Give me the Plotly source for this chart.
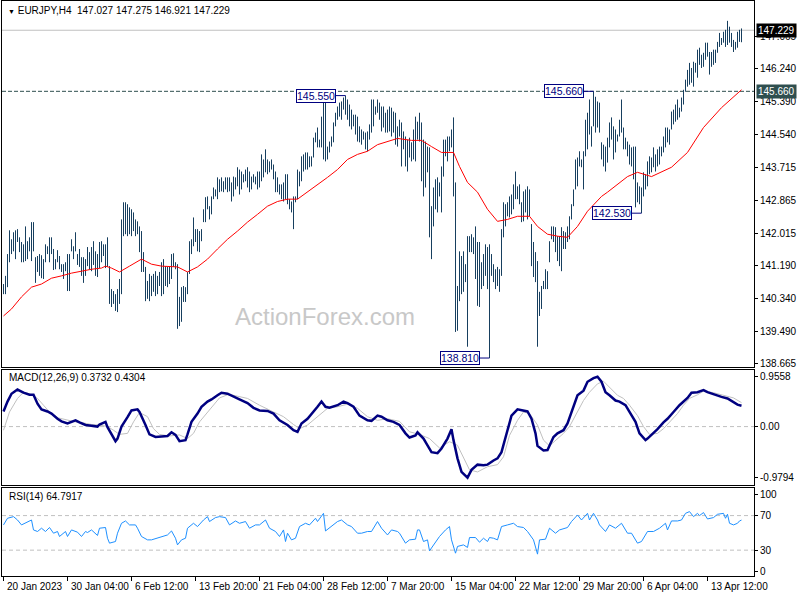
import plotly.graph_objects as go

# ---------------- data ----------------
bar_high = [
140.71,140.92,141.48,142.09,141.86,142.04,142.09,142.12,141.91,141.79,
141.73,142.19,141.81,141.91,142.30,142.30,141.40,141.43,141.48,141.45,
141.35,141.73,141.68,141.91,141.91,141.61,141.35,141.58,141.43,141.22,
141.22,141.27,141.48,141.48,141.86,141.68,142.04,141.48,141.61,141.40,
141.40,141.35,141.66,141.53,141.66,141.81,141.55,141.48,141.79,141.81,
141.73,141.73,141.91,141.17,140.58,140.53,140.45,140.58,140.84,142.37,
142.81,142.81,142.76,142.68,142.63,142.55,142.37,142.32,142.19,142.07,
141.53,141.15,140.79,140.97,140.92,140.97,141.04,140.92,141.02,141.27,
141.35,141.17,141.15,141.15,141.48,141.50,141.27,141.22,140.38,140.63,
140.66,140.63,141.02,141.81,141.86,142.42,142.12,142.12,142.07,142.12,
142.63,142.94,142.96,142.71,142.96,143.19,143.14,143.45,143.40,143.45,
143.35,143.45,143.45,143.45,143.32,143.47,143.45,143.71,143.65,143.60,
143.53,143.65,143.71,143.60,143.47,143.53,143.47,143.60,143.60,144.04,
143.91,144.17,143.91,143.86,143.91,143.78,143.60,143.45,143.27,143.27,
143.32,143.53,143.53,142.89,142.83,142.96,142.96,143.65,143.60,143.99,
144.04,144.09,144.09,143.99,143.99,144.47,144.60,144.73,144.42,145.01,
145.45,145.52,144.24,144.37,144.50,144.86,145.11,145.27,145.37,145.40,
145.50,145.55,145.45,145.32,145.19,145.06,145.06,145.01,144.76,144.68,
144.63,144.60,144.63,144.81,145.45,145.45,145.27,145.45,145.37,145.27,
145.27,145.11,145.19,145.27,145.24,145.14,145.11,144.76,144.93,144.86,
144.63,144.50,144.42,144.47,144.35,144.68,145.01,144.88,145.11,144.86,
144.42,144.37,144.24,144.22,142.71,143.19,143.40,143.45,143.32,143.73,
144.42,144.42,144.50,144.50,144.68,144.99,143.32,140.66,141.55,141.43,
141.55,141.22,141.94,141.94,141.99,141.91,142.19,141.79,141.79,141.27,
141.48,141.73,141.66,141.73,141.48,141.22,141.09,141.15,141.09,142.12,
142.81,142.76,142.81,142.96,143.01,143.27,143.60,143.22,143.27,142.81,
143.09,143.14,143.22,143.14,142.25,141.79,141.53,141.30,140.51,140.66,
140.79,141.09,141.04,141.81,142.19,142.19,142.17,141.94,141.94,142.17,
142.07,142.04,142.19,142.45,142.76,143.14,143.91,143.96,144.12,143.91,
144.12,144.93,145.11,145.45,144.76,145.66,145.52,145.40,145.37,144.35,
144.29,144.24,144.47,144.86,144.99,144.76,144.68,144.55,144.93,145.45,
144.73,144.47,144.37,144.29,144.22,144.24,144.24,143.32,143.22,143.19,
143.58,143.53,143.86,143.99,143.96,144.22,144.04,144.17,144.24,144.24,
144.50,144.73,144.73,144.68,145.14,145.19,145.32,145.45,145.24,145.50,
145.70,145.96,146.21,146.39,146.26,146.42,146.39,146.73,146.78,146.60,
146.65,146.91,146.91,146.67,146.67,146.73,146.73,146.93,147.16,147.03,
147.19,147.24,147.47,147.32,147.16,146.98,146.93,147.19,147.24,147.275,
]
bar_low = [
140.45,140.45,140.63,141.27,141.48,141.55,141.35,141.79,141.53,141.27,
141.27,141.30,141.35,141.55,141.30,141.55,140.74,141.02,140.92,140.86,
140.84,141.27,141.48,141.27,141.48,141.07,141.09,141.27,141.09,141.02,
140.84,141.04,140.53,140.53,141.55,141.35,141.55,141.20,141.15,140.92,
140.74,140.92,141.17,141.09,141.04,141.20,140.92,140.89,141.12,141.27,
141.43,141.12,141.15,140.20,140.12,140.20,140.02,139.99,140.20,140.45,
141.94,141.99,141.94,141.99,141.94,142.07,141.94,141.99,141.53,141.02,
141.02,140.27,140.33,140.27,140.40,140.51,140.40,140.45,140.66,140.40,
140.45,140.66,140.63,140.71,140.84,141.15,141.09,139.56,139.63,139.74,
140.25,140.25,140.45,140.97,141.48,141.68,141.79,141.55,141.53,141.81,
142.30,142.30,142.63,142.37,142.50,142.89,142.96,142.89,143.07,143.09,
143.07,143.14,143.07,143.09,142.83,142.96,143.14,143.22,143.01,143.14,
143.32,143.35,143.19,143.07,143.14,143.32,143.27,143.14,143.19,143.35,
143.45,143.58,143.53,143.58,143.65,143.40,143.07,143.07,143.01,142.89,
142.83,142.89,142.76,142.63,142.55,142.12,142.81,142.89,143.22,143.35,
143.60,143.65,143.65,143.71,143.73,143.96,144.35,144.22,144.22,144.22,
143.91,143.86,143.91,144.09,144.24,144.35,144.76,144.93,145.01,144.93,
145.19,145.06,144.93,144.76,144.68,144.76,144.55,144.37,144.35,144.29,
144.42,144.17,144.12,144.42,144.60,144.76,145.06,145.11,144.93,144.63,
144.73,144.60,144.60,144.63,144.50,144.60,144.29,144.24,144.50,143.73,
144.17,143.73,143.60,143.96,143.86,143.91,143.86,144.42,144.37,143.35,
142.96,143.19,143.58,141.91,141.35,142.19,142.63,142.55,142.96,142.55,
143.47,143.99,143.86,144.12,144.22,142.96,139.48,139.51,140.27,140.45,
140.51,140.76,139.10,141.53,141.53,141.48,140.84,140.15,140.12,140.58,
140.66,140.92,140.58,138.81,140.92,140.76,140.58,140.66,140.51,140.92,
141.91,142.19,142.45,142.42,142.50,142.63,142.89,142.89,142.76,142.30,
142.32,142.55,142.37,142.45,141.17,140.89,140.76,139.10,139.89,140.07,
140.58,140.58,140.58,141.27,141.86,141.79,141.53,141.30,141.17,141.04,
141.61,141.61,141.79,141.86,142.37,142.71,143.14,143.22,143.73,143.71,
143.14,143.99,144.17,144.55,144.24,144.76,144.60,144.73,144.60,143.91,
143.73,143.60,143.83,144.22,144.42,143.91,144.09,144.37,144.50,144.60,
144.17,144.17,143.99,143.78,143.73,143.40,142.68,142.81,142.76,142.53,
142.96,143.14,143.22,143.53,143.58,143.71,143.60,143.73,143.78,143.99,
144.09,144.22,144.35,144.29,144.68,144.81,144.88,144.93,144.99,145.14,
145.32,145.65,145.78,145.83,145.88,145.78,146.14,146.01,146.34,146.26,
146.29,146.47,146.55,146.09,146.29,146.34,146.39,146.65,146.80,146.85,
146.91,146.80,146.85,146.91,146.80,146.67,146.73,146.78,146.93,146.921,
]

# moving average (bar index, value)
ma_points = [
(0,139.89),(4,140.07),(9,140.38),(14,140.63),(19,140.71),(24,140.86),(29,140.92),
(34,140.99),(39,141.04),(44,141.09),(49,141.12),(51,141.17),(54,141.12),(58,141.02),
(63,141.17),(69,141.35),(74,141.22),(79,141.17),(87,141.15),(92,141.02),(97,141.15),
(102,141.35),(107,141.61),(112,141.86),(117,142.07),(122,142.30),(127,142.50),
(132,142.71),(137,142.83),(142,142.89),(147,142.89),(152,143.07),(157,143.27),
(162,143.45),(167,143.65),(172,143.91),(177,144.04),(182,144.12),(187,144.29),
(192,144.37),(197,144.45),(204,144.40),(209,144.40),(214,144.24),(219,144.09),
(225,144.09),(228,143.73),(232,143.32),(237,143.07),(242,142.63),(247,142.32),
(252,142.37),(257,142.45),(263,142.45),(267,142.19),(272,141.99),(277,141.94),
(282,141.91),(287,142.19),(292,142.58),(299,142.96),(302,143.07),(307,143.27),
(312,143.47),(317,143.58),(324,143.47),(334,143.71),(342,144.09),(350,144.73),
(359,145.24),(369,145.70),
]

macd_main_points = [
(0,0.29),(2,0.48),(4,0.63),(7,0.71),(8,0.69),(10,0.65),(13,0.61),(15,0.61),(17,0.44),
(19,0.33),(22,0.29),(24,0.25),(27,0.15),(29,0.10),(32,0.06),(34,0.09),(36,0.12),(38,0.08),
(41,0.03),(43,0.02),(47,0.00),(48,0.04),(51,0.09),(52,-0.01),(54,-0.16),(56,-0.28),
(57,-0.23),(59,0.00),(62,0.18),(64,0.31),(67,0.33),(68,0.28),(71,0.03),(73,-0.15),
(76,-0.20),(78,-0.19),(82,-0.18),(84,-0.11),(86,-0.16),(88,-0.28),(91,-0.26),(92,-0.15),
(94,0.09),(97,0.25),(99,0.38),(102,0.48),(104,0.52),(107,0.60),(109,0.65),(112,0.63),
(115,0.57),(118,0.52),(122,0.45),(125,0.36),(128,0.31),(132,0.30),(135,0.25),(138,0.12),
(142,0.03),(145,-0.07),(147,-0.10),(149,0.06),(152,0.15),(155,0.28),(157,0.38),(159,0.48),
(161,0.38),(163,0.36),(167,0.41),(170,0.48),(172,0.45),(175,0.38),(178,0.21),(182,0.12),
(184,0.11),(187,0.21),(189,0.19),(192,0.12),(195,0.09),(198,0.03),(201,-0.13),(203,-0.21),
(206,-0.17),(207,-0.11),(210,-0.23),(212,-0.36),(214,-0.49),(217,-0.51),(219,-0.42),
(222,-0.23),(224,-0.05),(225,-0.26),(227,-0.61),(229,-0.87),(232,-0.98),(234,-0.83),
(237,-0.73),(240,-0.74),(242,-0.73),(245,-0.65),(247,-0.61),(249,-0.49),(252,-0.07),
(254,0.21),(257,0.33),(259,0.31),(262,0.29),(264,0.15),(266,-0.13),(267,-0.37),(270,-0.46),
(272,-0.45),(275,-0.20),(277,-0.13),(280,-0.07),(282,0.06),(285,0.38),(287,0.60),(290,0.69),
(292,0.86),(295,0.93),(297,0.956),(299,0.86),(301,0.66),(303,0.60),(306,0.50),(308,0.48),
(311,0.41),(313,0.28),(316,0.09),(318,-0.13),(321,-0.26),(322,-0.23),(325,-0.13),(327,-0.05),
(330,0.08),(332,0.15),(335,0.28),(338,0.41),(342,0.55),(344,0.65),(347,0.66),(350,0.70),
(352,0.66),(356,0.60),(359,0.57),(362,0.54),(365,0.47),(367,0.42),(369,0.40),
]

macd_signal_points = [
(0,-0.07),(3,0.28),(7,0.54),(10,0.66),(13,0.63),(17,0.54),(20,0.41),(23,0.28),(27,0.17),
(32,0.12),(36,0.09),(40,0.07),(44,0.04),(48,0.03),(52,0.00),(55,-0.07),(58,-0.15),
(62,-0.13),(65,0.09),(68,0.27),(72,0.19),(75,-0.04),(78,-0.15),(83,-0.18),(88,-0.16),
(92,-0.23),(95,-0.13),(98,0.09),(102,0.28),(105,0.41),(108,0.55),(112,0.61),(115,0.60),
(122,0.54),(128,0.41),(135,0.28),(140,0.19),(145,0.04),(148,-0.04),(152,0.03),(157,0.19),
(162,0.35),(167,0.38),(172,0.43),(177,0.35),(182,0.19),(187,0.12),(192,0.15),(198,0.10),
(203,-0.10),(208,-0.15),(213,-0.23),(218,-0.41),(223,-0.29),(227,-0.36),(230,-0.61),
(233,-0.83),(237,-0.87),(242,-0.77),(247,-0.73),(250,-0.58),(253,-0.17),(257,0.12),
(260,0.28),(263,0.25),(267,0.03),(270,-0.26),(273,-0.37),(277,-0.23),(280,-0.13),
(283,0.00),(287,0.28),(290,0.50),(293,0.66),(297,0.82),(300,0.87),(303,0.76),(307,0.60),
(310,0.54),(313,0.41),(317,0.21),(320,0.00),(323,-0.15),(327,-0.13),(330,-0.04),(333,0.09),
(337,0.25),(340,0.41),(343,0.54),(347,0.61),(350,0.68),(355,0.65),(360,0.60),(365,0.55),
(369,0.46),
]

rsi_points = [
(0,59.2),(2,66.9),(5,68.8),(7,64.9),(9,59.2),(12,63.1),(14,64.9),(15,53.4),(17,51.6),
(19,55.4),(21,51.6),(23,56.2),(25,49.6),(27,51.6),(28,45.8),(31,51.6),(32,45.8),(34,53.4),
(37,50.8),(39,45.8),(41,51.6),(42,50.4),(44,53.4),(47,47.0),(48,55.4),(51,56.2),(52,43.8),
(53,38.1),(56,40.0),(57,49.6),(59,61.1),(61,63.8),(63,59.2),(66,59.2),(67,55.4),(69,45.8),
(72,41.9),(74,41.9),(77,43.8),(79,45.8),(82,47.6),(84,52.2),(86,43.8),(87,36.1),(89,41.9),
(91,43.8),(92,55.4),(95,61.1),(97,57.3),(100,64.9),(102,68.8),(103,63.1),(106,67.7),
(108,68.8),(111,67.7),(113,59.2),(116,63.8),(118,61.1),(121,63.1),(123,55.4),(126,59.2),
(128,59.2),(131,64.9),(133,55.4),(136,51.6),(138,45.8),(140,53.4),(141,40.0),(142,49.6),
(144,41.9),(146,43.8),(148,57.3),(151,61.1),(153,59.2),(156,66.9),(157,63.1),(160,72.6),
(161,52.2),(164,57.3),(167,63.1),(169,64.9),(172,59.2),(174,57.3),(177,49.6),(179,49.6),
(182,51.6),(184,51.6),(187,63.1),(189,55.4),(192,47.6),(194,53.4),(197,51.6),(198,49.6),
(201,38.1),(203,41.9),(206,42.7),(207,53.4),(208,53.4),(210,40.0),(212,41.9),(213,29.2),
(215,36.1),(217,41.9),(218,45.8),(221,53.4),(223,57.3),(224,41.9),(226,26.5),(227,34.3),
(230,36.1),(232,33.1),(233,44.6),(236,44.6),(238,39.2),(240,43.8),(242,40.0),(243,44.6),
(245,43.8),(247,41.9),(249,57.3),(252,59.2),(255,61.1),(257,57.3),(260,56.2),(262,51.6),
(265,41.9),(267,25.4),(268,41.9),(271,42.7),(273,55.4),(276,49.6),(278,53.4),(282,56.2),
(284,63.1),(287,70.7),(289,64.9),(292,72.6),(293,64.9),(295,72.6),(297,64.9),(298,59.2),
(301,51.6),(303,59.2),(306,55.4),(309,61.1),(312,49.6),(314,49.6),(317,38.1),(319,40.0),
(322,51.6),(325,51.6),(328,55.4),(331,61.1),(332,53.4),(334,63.8),(337,63.8),(339,64.9),
(341,72.6),(343,74.6),(345,68.8),(347,72.6),(348,70.0),(350,73.5),(352,66.1),(355,67.7),
(357,71.5),(360,72.6),(361,66.9),(362,71.5),(363,61.1),(365,59.2),(367,61.1),(368,63.8),
(369,64.79),
]

price_ticks = [147.065, 146.240, 145.390, 144.540, 143.715, 142.865, 142.015,
               141.190, 140.340, 139.490, 138.665]
time_tick_idx = [0, 32, 64, 96, 128, 160, 192, 224, 256, 288, 320, 352]
time_tick_text = ["20 Jan 2023", "30 Jan 04:00", "6 Feb 12:00", "13 Feb 20:00",
                  "21 Feb 04:00", "28 Feb 12:00", "7 Mar 20:00", "15 Mar 04:00",
                  "22 Mar 12:00", "29 Mar 20:00", "6 Apr 04:00", "13 Apr 12:00"]
last_close = 147.229
level_line = 145.660
swing_labels = [(171, 145.550), (295, 145.660), (243, 138.810), (319, 142.530)]
macd_ticks = [0.9558, 0.0, -0.9794]
macd_tick_text = ["0.9558", "0.00", "-0.9794"]
rsi_levels = [70, 30]
rsi_tick_vals = [94.6, 70, 30, 5.8]
rsi_tick_text = ["100", "70", "30", "0"]

# ---------------- styling ----------------
FONT = "Liberation Sans, Arial, sans-serif"
FS = 10
BAR_COLOR = "#173F5F"
W, H = 800, 600
XDOM = [2 / W, 754 / W]
MAIN_DOM = [1 - 368 / H, 1 - 1 / H]
MACD_DOM = [1 - 487 / H, 1 - 371 / H]
RSI_DOM = [1 - 578 / H, 1 - 490 / H]
XRANGE = [-0.75, 375.25]

fig = go.Figure()

# OHLC bars as high-low lines
bx, by = [], []
for i, (hv, lv) in enumerate(zip(bar_high, bar_low)):
    bx += [i, i, None]
    by += [lv, hv, None]
fig.add_trace(go.Scatter(x=bx, y=by, mode="lines", line=dict(color=BAR_COLOR, width=1),
                         xaxis="x", yaxis="y", hoverinfo="skip", showlegend=False))
fig.add_trace(go.Scatter(x=[p[0] for p in ma_points], y=[p[1] for p in ma_points],
                         mode="lines", line=dict(color="#FF0000", width=1),
                         xaxis="x", yaxis="y", showlegend=False))
fig.add_trace(go.Scatter(x=[p[0] for p in macd_signal_points], y=[p[1] for p in macd_signal_points],
                         mode="lines", line=dict(color="#C0C0C0", width=1),
                         xaxis="x2", yaxis="y2", showlegend=False))
fig.add_trace(go.Scatter(x=[p[0] for p in macd_main_points], y=[p[1] for p in macd_main_points],
                         mode="lines", line=dict(color="#000080", width=2.5),
                         xaxis="x2", yaxis="y2", showlegend=False))
fig.add_trace(go.Scatter(x=[p[0] for p in rsi_points], y=[p[1] for p in rsi_points],
                         mode="lines", line=dict(color="#1E90FF", width=1),
                         xaxis="x3", yaxis="y3", showlegend=False))

shapes = []
shapes.append(dict(type="line", xref="x domain", yref="y", x0=0, x1=1, y0=last_close, y1=last_close,
                   line=dict(color="#C0C0C0", width=1), layer="below"))
shapes.append(dict(type="line", xref="x domain", yref="y", x0=0, x1=1, y0=level_line, y1=level_line,
                   line=dict(color="#2F4F4F", width=1, dash="4px,2px"), layer="below"))
shapes.append(dict(type="line", xref="x2 domain", yref="y2", x0=0, x1=1, y0=0, y1=0,
                   line=dict(color="#C0C0C0", width=1, dash="4px,3px"), layer="below"))
for lv in rsi_levels:
    shapes.append(dict(type="line", xref="x3 domain", yref="y3", x0=0, x1=1, y0=lv, y1=lv,
                       line=dict(color="#C0C0C0", width=1, dash="4px,3px"), layer="below"))

annotations = []
for idx, val in swing_labels:
    shapes.append(dict(type="line", xref="x", yref="y", x0=idx - 5, x1=idx, y0=val, y1=val,
                       line=dict(color="#000080", width=1)))
    annotations.append(dict(xref="x", yref="y", x=idx - 5, y=val, text=f"{val:.3f}",
                            xanchor="right", yanchor="middle", showarrow=False,
                            font=dict(family=FONT, size=10.5, color="#000080"),
                            bgcolor="white", bordercolor="#000080", borderwidth=1, borderpad=0))

# right-axis highlighted values
annotations.append(dict(xref="paper", yref="y", x=756 / W, y=last_close, text=f"{last_close:.3f}",
                        xanchor="left", yanchor="middle", showarrow=False,
                        font=dict(family=FONT, size=FS, color="white"),
                        bgcolor="black", borderpad=1))
annotations.append(dict(xref="paper", yref="y", x=756 / W, y=level_line, text=f"{level_line:.3f}",
                        xanchor="left", yanchor="middle", showarrow=False,
                        font=dict(family=FONT, size=FS, color="white"),
                        bgcolor="#2F4F4F", borderpad=1))

# panel titles
annotations.append(dict(xref="paper", yref="paper", x=6 / W, y=1 - 11 / H,
                        text="<span style='font-size:7px'>▼</span> EURJPY,H4  147.027 147.275 146.921 147.229",
                        xanchor="left", yanchor="middle", showarrow=False,
                        font=dict(family=FONT, size=FS, color="black")))
annotations.append(dict(xref="paper", yref="paper", x=7 / W, y=1 - 379 / H,
                        text="MACD(12,26,9) 0.3732 0.4304",
                        xanchor="left", yanchor="middle", showarrow=False,
                        font=dict(family=FONT, size=FS, color="black")))
annotations.append(dict(xref="paper", yref="paper", x=7 / W, y=1 - 498 / H,
                        text="RSI(14) 64.7917",
                        xanchor="left", yanchor="middle", showarrow=False,
                        font=dict(family=FONT, size=FS, color="black")))
# watermark
annotations.append(dict(xref="paper", yref="paper", x=325 / W, y=1 - 318 / H,
                        text="ActionForex.com", xanchor="center", yanchor="middle", showarrow=False,
                        font=dict(family=FONT, size=24, color="#C8C8C8")))
# time labels (left aligned at tick)
for idx, txt in zip(time_tick_idx, time_tick_text):
    annotations.append(dict(xref="x3", yref="paper", x=idx, y=1 - 588 / H, text=txt,
                            xanchor="left", yanchor="middle", showarrow=False, xshift=1,
                            font=dict(family=FONT, size=FS, color="black")))

axis_common = dict(showline=True, mirror=True, linecolor="black", linewidth=1,
                   showgrid=False, zeroline=False)
ytick_common = dict(side="right", ticks="outside", ticklen=3, tickcolor="black",
                    tickfont=dict(family=FONT, size=FS, color="black"))

fig.update_layout(
    width=W, height=H, autosize=False,
    margin=dict(l=0, r=0, t=0, b=0),
    paper_bgcolor="white", plot_bgcolor="white",
    showlegend=False, hovermode=False,
    xaxis=dict(domain=XDOM, range=XRANGE, anchor="y", showticklabels=False, ticks="", **axis_common),
    xaxis2=dict(domain=XDOM, range=XRANGE, anchor="y2", showticklabels=False, ticks="", **axis_common),
    xaxis3=dict(domain=XDOM, range=XRANGE, anchor="y3", showticklabels=False, ticks="outside",
                ticklen=4, tickcolor="black", tickvals=time_tick_idx, **axis_common),
    yaxis=dict(domain=MAIN_DOM, range=[138.585, 147.98], anchor="x", tickvals=price_ticks,
               tickformat=".3f", **ytick_common, **axis_common),
    yaxis2=dict(domain=MACD_DOM, range=[-1.128, 1.090], anchor="x2", tickvals=macd_ticks,
                ticktext=macd_tick_text, **ytick_common, **axis_common),
    yaxis3=dict(domain=RSI_DOM, range=[0, 101.5], anchor="x3", tickvals=rsi_tick_vals,
                ticktext=rsi_tick_text, **ytick_common, **axis_common),
    shapes=shapes,
    annotations=annotations,
)

fig.write_html(
    "out.html",
    config={"displayModeBar": False, "responsive": False},
    post_script="document.body.style.margin='0px';document.body.style.overflow='hidden';",
)
